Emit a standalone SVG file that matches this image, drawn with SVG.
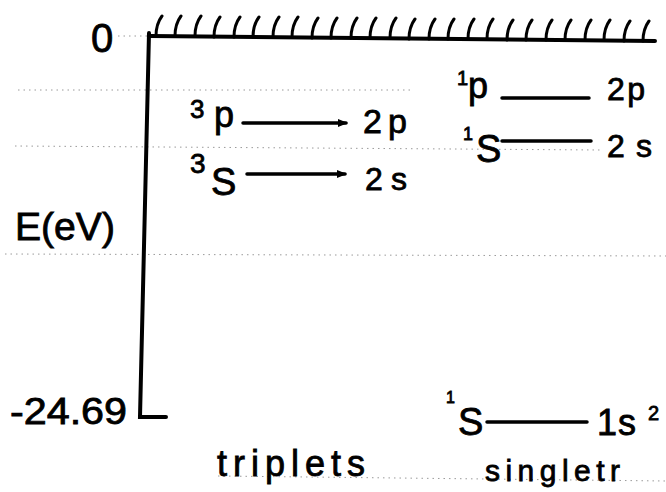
<svg xmlns="http://www.w3.org/2000/svg" width="666" height="492" viewBox="0 0 666 492">
<style>
  .t { font-family: "Liberation Sans", "DejaVu Sans", sans-serif; fill: #000; stroke: #000; stroke-width: 0.8; }
  .rule { stroke: #9a9a9a; stroke-width: 1; stroke-dasharray: 1.5 4; fill: none; }
  .axis { stroke: #000; stroke-width: 4; fill: none; stroke-linecap: round; }
  .hatch { stroke: #000; stroke-width: 3; fill: none; stroke-linecap: round; }
  .lvl { stroke: #000; stroke-width: 3.5; fill: none; stroke-linecap: round; }
</style>
<defs>
  <marker id="ah" viewBox="0 0 10 10" refX="8" refY="5" markerWidth="3" markerHeight="3" orient="auto" markerUnits="strokeWidth">
    <path d="M0 1 L10 5 L0 9 z" fill="#000"/>
  </marker>
</defs>
<rect width="666" height="492" fill="#fff"/>

<!-- faint ruled paper lines -->
<g id="ruling">
  <line class="rule" x1="118" y1="36" x2="147" y2="36"/>
  <line class="rule" x1="18" y1="90" x2="410" y2="90"/>
  <line class="rule" x1="15" y1="146" x2="600" y2="150"/>
  <line class="rule" x1="5" y1="254" x2="666" y2="256"/>
  <line class="rule" x1="218" y1="476" x2="666" y2="481"/>
</g>

<!-- axes -->
<g id="axes">
  <path class="axis" d="M149 33 L140 417 L166 417"/>
  <path class="axis" d="M150 36 L655 41"/>
  <path class="hatch" d="M156 36 q0 -12 6 -20 M175 36 q0 -12 6 -20 M195 36 q0 -12 6 -20 M214 37 q0 -12 6 -20 M234 37 q0 -12 6 -20 M253 37 q0 -12 6 -20 M273 37 q0 -12 6 -20 M292 37 q0 -12 6 -20 M312 38 q0 -12 6 -20 M331 38 q0 -12 6 -20 M351 38 q0 -12 6 -20 M370 38 q0 -12 6 -20 M390 38 q0 -12 6 -20 M409 39 q0 -12 6 -20 M429 39 q0 -12 6 -20 M448 39 q0 -12 6 -20 M468 39 q0 -12 6 -20 M487 39 q0 -12 6 -20 M507 40 q0 -12 6 -20 M526 40 q0 -12 6 -20 M546 40 q0 -12 6 -20 M565 40 q0 -12 6 -20 M585 40 q0 -12 6 -20 M604 40 q0 -12 6 -20 M624 41 q0 -12 6 -20 M643 41 q0 -12 6 -20"/>
  <text class="t" x="91" y="52" font-size="40">0</text>
  <text class="t" x="15" y="240" font-size="38" textLength="100" lengthAdjust="spacingAndGlyphs">E(eV)</text>
  <text class="t" x="10" y="424" font-size="36" textLength="117" lengthAdjust="spacingAndGlyphs">-24.69</text>
</g>

<!-- triplet levels -->
<g id="triplet-3P">
  <text class="t"><tspan x="190" y="118" font-size="26">3</tspan><tspan x="214" y="127" font-size="36">p</tspan></text>
  <text class="t" x="363" y="133" font-size="34" textLength="44" lengthAdjust="spacing">2p</text>
</g>
<g id="triplet-3S">
  <text class="t"><tspan x="190" y="173" font-size="28">3</tspan><tspan x="211" y="195" font-size="38">S</tspan></text>
  <text class="t" x="365" y="190" font-size="32" textLength="42" lengthAdjust="spacing">2s</text>
</g>

<!-- singlet levels -->
<g id="singlet-1P">
  <text class="t"><tspan x="457" y="85" font-size="20">1</tspan><tspan x="468" y="98" font-size="36">p</tspan></text>
  <text class="t" x="607" y="100" font-size="32" textLength="38" lengthAdjust="spacing">2p</text>
</g>
<g id="singlet-1S">
  <text class="t"><tspan x="463" y="140" font-size="18">1</tspan><tspan x="476" y="162" font-size="38">S</tspan></text>
  <text class="t" x="607" y="157" font-size="32" textLength="45" lengthAdjust="spacing">2s</text>
</g>
<g id="ground-1S">
  <text class="t"><tspan x="446" y="403" font-size="16">1</tspan><tspan x="458" y="435" font-size="38">S</tspan></text>
  <text class="t"><tspan x="597" y="435" font-size="36">1</tspan><tspan x="618" y="435" font-size="36">s</tspan><tspan x="648" y="420" font-size="20">2</tspan></text>
</g>

<!-- group labels -->
<g id="labels">
  <text class="t" x="217" y="476" font-size="36" textLength="148" lengthAdjust="spacing">triplets</text>
  <text class="t" x="485" y="481" font-size="30" textLength="135" lengthAdjust="spacing">singletr</text>
</g>

<!-- connectors -->
<g id="connectors">
  <line class="lvl" x1="243" y1="123" x2="346" y2="123" marker-end="url(#ah)"/>
  <line class="lvl" x1="247" y1="174" x2="345" y2="174" marker-end="url(#ah)"/>
  <line class="lvl" x1="502" y1="98" x2="589" y2="98" stroke-width="4"/>
  <line class="lvl" x1="502" y1="141" x2="591" y2="141" stroke-width="4"/>
  <line class="lvl" x1="487" y1="422" x2="587" y2="422"/>
</g>
</svg>
